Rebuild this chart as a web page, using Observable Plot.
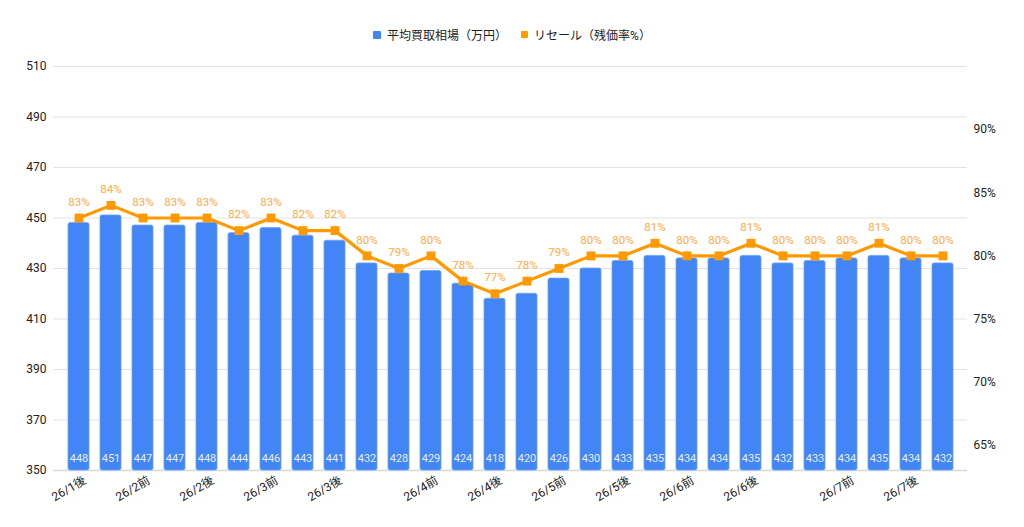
<!DOCTYPE html>
<html><head><meta charset="utf-8">
<script src="https://cdn.jsdelivr.net/npm/d3@7"></script>
<script src="https://cdn.jsdelivr.net/npm/@observablehq/plot@0.6"></script>
<style>
html,body{margin:0;padding:0;background:#fff;}
body{width:1024px;height:527px;overflow:hidden;font-family:Roboto,"Noto Sans CJK JP",sans-serif;}
#legend{height:50px;display:flex;justify-content:center;align-items:flex-start;padding-top:0;box-sizing:border-box;font-size:12px;color:#222;}
#legend .it{display:flex;align-items:center;margin:26px 7px 0 7px;}
#legend .sw{width:8px;height:8px;margin-right:6px;border-radius:1px;}
</style></head>
<body>
<div id="legend">
  <div class="it"><span class="sw" style="background:#4285f4"></span>平均買取相場（万円）</div>
  <div class="it"><span class="sw" style="background:#ff9900;width:7px;height:7px"></span>リセール（残価率%）</div>
</div>
<div id="chart"></div>
<script>
const periods = ["26/1後","26/1後","26/2前","26/2前","26/2後","26/2後","26/3前","26/3前","26/3後","26/3後","26/3後","26/4前","26/4前","26/4後","26/4後","26/5前","26/5前","26/5後","26/5後","26/6前","26/6前","26/6後","26/6後","26/6後","26/7前","26/7前","26/7後","26/7後"];
const prices = [448,451,447,447,448,444,446,443,441,432,428,429,424,418,420,426,430,433,435,434,434,435,432,433,434,435,434,432];
const resale = [83,84,83,83,83,82,83,82,82,80,79,80,78,77,78,79,80,80,81,80,80,81,80,80,80,81,80,80];
const leftTicks = [350,370,390,410,430,450,470,490,510];
const rightTicks = [65,70,75,80,85,90];

const pct = d3.scaleLinear([63,95],[350,510]);
const data = prices.map((v,i)=>({i, label: periods[i], price: v, rate: resale[i], ry: pct(resale[i])}));
const shownTicks = data.filter((d,i)=> i===0 || periods[i]!==periods[i-1]).map(d=>d.i);

const font = 'Roboto,"Noto Sans CJK JP",sans-serif';
const chart = Plot.plot({
  width: 1024, height: 477,
  marginLeft: 53, marginRight: 57, marginTop: 16, marginBottom: 57,
  style: {fontFamily: font, fontSize: "12px", color: "#222", background: "#fff"},
  x: {type: "band", domain: d3.range(prices.length), padding: 0.35, axis: null, label: null},
  y: {domain: [350,510], axis: null, label: null},
  marks: [
    Plot.ruleY(leftTicks.slice(1), {stroke: "#e3e3e3", strokeWidth: 1}),
    Plot.ruleY([350], {stroke: "#dadada", strokeWidth: 1.5}),
    Plot.barY(data, {x: "i", y1: 350, y2: "price", fill: "#4285f4", stroke: "#6fa0f6", strokeWidth: 0.8, rx: 2}),
    Plot.text(data, {x: "i", y: 350, text: d=>String(d.price), dy: -12, fill: "#e6eefd", fontSize: 11}),
    Plot.ruleX(data, {x: "i", y1: "ry", y2: d=>d.ry+2.6, stroke: "#eeeeee", strokeWidth: 1}),
    Plot.line(data, {x: "i", y: "ry", stroke: "#ff9900", strokeWidth: 3.2}),
    Plot.dot(data, {x: "i", y: "ry", symbol: "square", r: 5, fill: "#ff9900", stroke: "none"}),
    Plot.text(data, {x: "i", y: "ry", text: d=>d.rate+"%", dy: -16, fill: "#ffab40", fontSize: 11.5}),
    Plot.axisY(leftTicks, {anchor: "left", label: null, tickSize: 0, tickPadding: 7, fontSize: 12, fill: "#222", tickFormat: d=>String(d)}),
    Plot.axisY(rightTicks.map(p=>pct(p)), {anchor: "right", label: null, tickSize: 0, tickPadding: 6, fontSize: 12, fill: "#222", tickFormat: v=>Math.round(pct.invert(v))+"%"}),
    Plot.axisX(shownTicks, {anchor: "bottom", label: null, tickSize: 0, tickRotate: -30, tickPadding: 9, dx: 6, fontSize: 12, fill: "#222", tickFormat: i=>periods[i]})
  ]
});
document.getElementById("chart").appendChild(chart);
</script>
</body></html>
